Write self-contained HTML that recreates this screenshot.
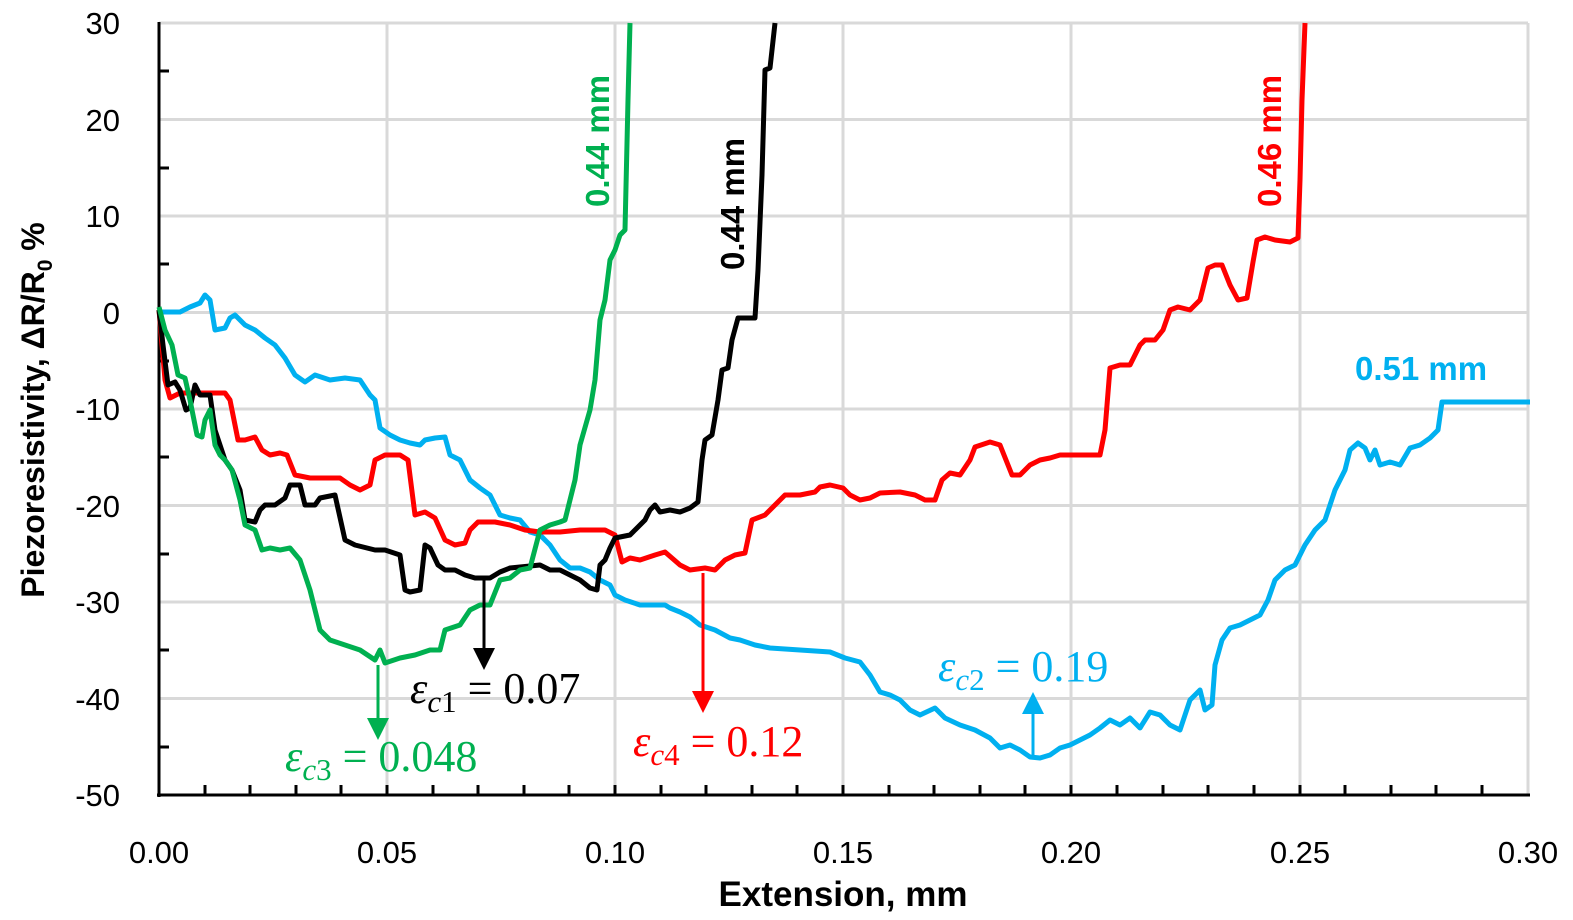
<!DOCTYPE html><html><head><style>body{margin:0;background:#fff}svg{display:block}</style></head><body>
<svg width="1573" height="920" xmlns="http://www.w3.org/2000/svg" font-family="Liberation Sans, sans-serif">
<g stroke="#d9d9d9" stroke-width="3">
<line x1="159" y1="23" x2="1528" y2="23"/><line x1="159" y1="119.5" x2="1528" y2="119.5"/><line x1="159" y1="216" x2="1528" y2="216"/><line x1="159" y1="312.5" x2="1528" y2="312.5"/><line x1="159" y1="409" x2="1528" y2="409"/><line x1="159" y1="505.5" x2="1528" y2="505.5"/><line x1="159" y1="602" x2="1528" y2="602"/><line x1="159" y1="698.5" x2="1528" y2="698.5"/>
<line x1="387" y1="23" x2="387" y2="795"/><line x1="615" y1="23" x2="615" y2="795"/><line x1="843" y1="23" x2="843" y2="795"/><line x1="1071" y1="23" x2="1071" y2="795"/><line x1="1300" y1="23" x2="1300" y2="795"/><line x1="1528" y1="23" x2="1528" y2="795"/>
</g>
<g stroke="#000" stroke-width="3">
<line x1="159" y1="22" x2="159" y2="797"/><line x1="157" y1="795" x2="1530" y2="795"/>
<path d="M159 71h10M159 168h10M159 264h10M159 361h10M159 457h10M159 554h10M159 650h10M159 747h10"/>
<path d="M205 795v-10M250 795v-10M296 795v-10M341 795v-10M387 795v-10M433 795v-10M478 795v-10M524 795v-10M569 795v-10M615 795v-10M661 795v-10M706 795v-10M752 795v-10M797 795v-10M843 795v-10M889 795v-10M934 795v-10M980 795v-10M1025 795v-10M1071 795v-10M1117 795v-10M1163 795v-10M1208 795v-10M1254 795v-10M1300 795v-10M1345 795v-10M1391 795v-10M1436 795v-10M1482 795v-10"/>
</g>
<g font-size="31" text-anchor="end" fill="#000">
<text x="120" y="34">30</text><text x="120" y="131">20</text><text x="120" y="227">10</text><text x="120" y="324">0</text><text x="120" y="420">-10</text><text x="120" y="517">-20</text><text x="120" y="613">-30</text><text x="120" y="710">-40</text><text x="120" y="806">-50</text>
</g>
<g font-size="31" text-anchor="middle" fill="#000">
<text x="159" y="863">0.00</text><text x="387" y="863">0.05</text><text x="615" y="863">0.10</text><text x="843" y="863">0.15</text><text x="1071" y="863">0.20</text><text x="1300" y="863">0.25</text><text x="1528" y="863">0.30</text>
</g>
<text x="843" y="906" font-size="35" font-weight="bold" text-anchor="middle">Extension, mm</text>
<text transform="translate(44,410) rotate(-90)" font-size="32" font-weight="bold" text-anchor="middle">Piezoresistivity, ΔR/R<tspan font-size="21" dy="8">0</tspan><tspan dy="-8">  %</tspan></text>
<g fill="none" stroke-width="5" stroke-linejoin="round">
<polyline stroke="#00b0f0" points="159,312 180,312 190,307 200,303 205,295 210,300 215,330 225,328 230,318 235,315 245,325 255,330 265,338 275,345 285,358 295,375 305,382 315,375 330,380 345,378 360,380 370,395 375,400 380,428 390,435 400,440 410,443 420,445 425,440 435,438 445,437 450,455 460,460 470,480 480,488 490,495 500,515 510,518 520,520 530,532 540,535 550,545 560,560 570,568 580,568 590,572 600,580 610,585 615,595 625,600 640,605 655,605 665,605 670,608 680,612 690,617 700,625 715,630 730,638 740,640 755,645 770,648 800,650 830,652 845,658 860,662 870,675 880,692 890,695 900,700 910,710 920,715 935,708 945,718 960,725 975,730 990,738 1000,748 1010,745 1020,750 1030,757 1040,758 1050,755 1060,748 1070,745 1080,740 1090,735 1100,728 1110,720 1120,725 1130,718 1140,728 1150,712 1160,715 1170,725 1180,730 1190,700 1200,690 1205,710 1212,705 1215,665 1222,640 1230,628 1240,625 1250,620 1260,615 1268,600 1275,580 1285,570 1295,565 1305,545 1315,530 1325,520 1335,490 1345,470 1350,450 1358,443 1365,448 1370,460 1375,450 1380,465 1390,462 1400,465 1410,448 1420,445 1430,438 1438,430 1442,402 1460,402 1530,402"/>
<polyline stroke="#ff0000" points="159,310 165,380 170,398 180,393 225,393 230,400 238,440 245,440 255,437 262,450 270,455 280,453 287,455 295,475 310,478 340,478 350,485 360,490 370,485 375,460 385,455 400,455 408,460 415,515 425,512 435,518 445,540 455,545 465,543 470,530 478,522 495,522 510,525 525,530 540,532 560,532 580,530 605,530 615,535 622,562 630,558 640,560 655,555 665,552 680,565 690,570 705,568 715,570 725,560 735,555 745,553 752,520 765,515 775,505 785,495 800,495 815,492 820,487 830,485 843,488 850,495 860,500 870,498 880,493 900,492 915,495 925,500 935,500 942,480 950,473 960,475 970,460 975,447 990,442 1000,445 1012,475 1020,475 1030,465 1040,460 1050,458 1060,455 1100,455 1105,430 1110,368 1120,365 1130,365 1140,345 1145,340 1155,340 1163,330 1170,310 1178,307 1190,310 1200,300 1208,268 1215,265 1222,265 1230,285 1238,300 1247,298 1253,262 1257,240 1265,237 1275,240 1290,242 1298,238 1300,180 1302,100 1305,23"/>
<polyline stroke="#000" points="159,310 163,345 168,385 175,382 180,390 186,410 190,408 195,385 200,395 210,395 215,430 225,460 232,470 240,490 245,520 255,522 260,510 265,505 275,505 285,498 290,485 300,485 305,505 315,505 320,498 335,495 345,540 355,545 375,550 385,550 400,555 405,590 410,592 420,590 425,545 430,548 438,565 445,570 455,570 465,575 475,578 490,578 500,572 510,568 540,565 550,570 560,570 570,575 580,580 590,588 597,590 600,565 605,560 610,548 615,538 630,535 640,525 645,520 650,510 655,505 660,512 670,510 680,512 690,508 698,502 702,460 705,440 712,435 718,400 722,370 728,368 732,340 738,318 755,318 758,270 762,175 765,70 770,68 775,23"/>
<polyline stroke="#00b050" points="159,307 165,330 172,345 178,375 185,378 190,400 197,435 202,437 205,420 210,410 215,445 220,455 225,460 232,470 240,500 245,525 255,530 262,550 270,548 280,550 290,548 300,560 310,590 320,630 330,640 345,645 360,650 375,660 380,650 385,663 400,658 415,655 430,650 440,650 445,630 460,625 470,610 480,605 490,605 500,580 510,578 520,570 530,568 540,530 550,525 560,522 565,520 575,480 580,445 590,410 595,380 600,320 605,300 610,260 615,250 620,235 625,230 628,100 630,23"/>
</g>
<g stroke-width="3">
<line x1="484" y1="578" x2="484" y2="650" stroke="#000"/><polygon points="473,648 495,648 484,670" fill="#000"/>
<line x1="378" y1="665" x2="378" y2="720" stroke="#00b050"/><polygon points="367,718 389,718 378,740" fill="#00b050"/>
<line x1="703" y1="573" x2="703" y2="693" stroke="#ff0000"/><polygon points="692,691 714,691 703,713" fill="#ff0000"/>
<line x1="1033" y1="757" x2="1033" y2="712" stroke="#00b0f0"/><polygon points="1022,714 1044,714 1033,692" fill="#00b0f0"/>
</g>
<g font-size="33" font-weight="bold">
<text transform="translate(609,207) rotate(-90)" fill="#00b050">0.44 mm</text>
<text transform="translate(744,270) rotate(-90)" fill="#000">0.44 mm</text>
<text transform="translate(1281,207) rotate(-90)" fill="#ff0000">0.46 mm</text>
<text x="1355" y="380" fill="#00b0f0">0.51 mm</text>
</g>
<g font-family="Liberation Serif, serif" font-size="44">
<text x="410" y="703" fill="#000"><tspan font-style="italic">ε</tspan><tspan font-style="italic" font-size="31" dy="9">c</tspan><tspan font-size="31">1</tspan><tspan dy="-9"> = 0.07</tspan></text>
<text x="285" y="771" fill="#00b050"><tspan font-style="italic">ε</tspan><tspan font-style="italic" font-size="31" dy="9">c</tspan><tspan font-size="31">3</tspan><tspan dy="-9"> = 0.048</tspan></text>
<text x="633" y="756" fill="#ff0000"><tspan font-style="italic">ε</tspan><tspan font-style="italic" font-size="31" dy="9">c</tspan><tspan font-size="31">4</tspan><tspan dy="-9"> = 0.12</tspan></text>
<text x="938" y="681" fill="#00b0f0"><tspan font-style="italic">ε</tspan><tspan font-style="italic" font-size="31" dy="9">c</tspan><tspan font-size="31">2</tspan><tspan dy="-9"> = 0.19</tspan></text>
</g>
</svg>
</body></html>
